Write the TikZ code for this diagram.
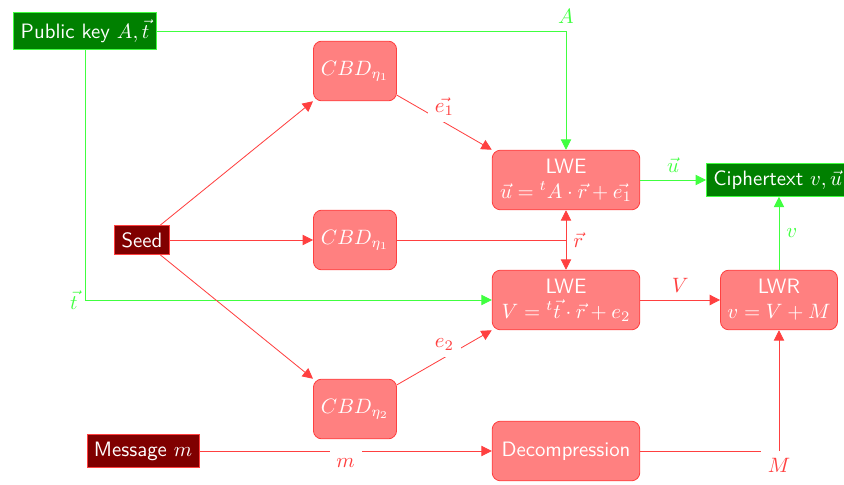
\documentclass[tikz,border=0pt]{standalone}
\usetikzlibrary{arrows.meta}
\colorlet{lnred}{red!75}
\colorlet{lngreen}{green!75}
\tikzset{
  opbox/.style={rectangle, rounded corners=4pt, draw=lnred, fill=red!50, text=white,
    minimum width=40pt, minimum height=28.7pt, align=center},
  widebox/.style={opbox, minimum width=71pt},
  keybox/.style={rectangle, draw=lngreen, fill=green!50!black, text=white},
  inbox/.style={rectangle, draw=lnred, fill=red!50!black, text=white},
  redarr/.style={color=lnred, -{Triangle[length=5pt,width=5pt]}},
  greenarr/.style={color=lngreen, -{Triangle[length=5pt,width=5pt]}},
}
\begin{document}
\begin{tikzpicture}[x=0.0169cm,y=-0.0169cm,font=\sffamily]
\useasboundingbox (0,0) rectangle (844,485);
% inputs and outputs
\node[keybox] (pk) at (85,31) {Public key $A,\vec{t}$};
\node[inbox] (seed) at (142,240) {Seed};
\node[inbox] (msg) at (143,451) {Message $m$};
\node[keybox,anchor=west] (ct) at (706,180) {Ciphertext $v,\vec{u}$};
% operations
\node[opbox] (cbda) at (355,71) {$CBD_{\eta_1}$};
\node[opbox] (cbdb) at (355,240) {$CBD_{\eta_1}$};
\node[opbox] (cbdc) at (355,409) {$CBD_{\eta_2}$};
\node[widebox] (lweu) at (566,180) {LWE\\$\vec{u}={}^tA\cdot\vec{r}+\vec{e_1}$};
\node[widebox] (lwev) at (566,300) {LWE\\$V={}^t\vec{t}\cdot\vec{r}+e_2$};
\node[opbox] (lwr) at (779,300) {LWR\\$v=V+M$};
\node[widebox] (dec) at (566,451) {Decompression};
% connectors
\draw[greenarr] (pk) -| (lweu) node[pos=0.5,above] {$A$};
\draw[greenarr] (pk) |- (lwev) node[pos=0.5,left] {$\vec{t}$};
\draw[redarr] (seed) -- (cbda.south west);
\draw[redarr] (seed) -- (cbdb);
\draw[redarr] (seed) -- (cbdc.north west);
\draw[redarr] (cbda) -- (lweu.north west) node[midway,above,fill=white] {$\vec{e_1}$};
\draw[redarr] (cbdc) -- (lwev.south west) node[midway,above,fill=white] {$e_2$};
\draw[redarr] (cbdb) -| (lweu);
\draw[redarr] (cbdb) -| (lwev) node[pos=0.5,right] {$\vec{r}$};
\draw[greenarr] (lweu) -- (ct) node[midway,above] {$\vec{u}$};
\draw[redarr] (lwev) -- (lwr) node[midway,above] {$V$};
\draw[greenarr] (lwr) -- (lwr |- ct.south) node[midway,right] {$v$};
\draw[redarr] (msg) -- (dec) node[midway,below,fill=white] {$m$};
\draw[redarr] (dec) -| (lwr) node[pos=0.5,below,fill=white] {$M$};
\end{tikzpicture}
\end{document}
